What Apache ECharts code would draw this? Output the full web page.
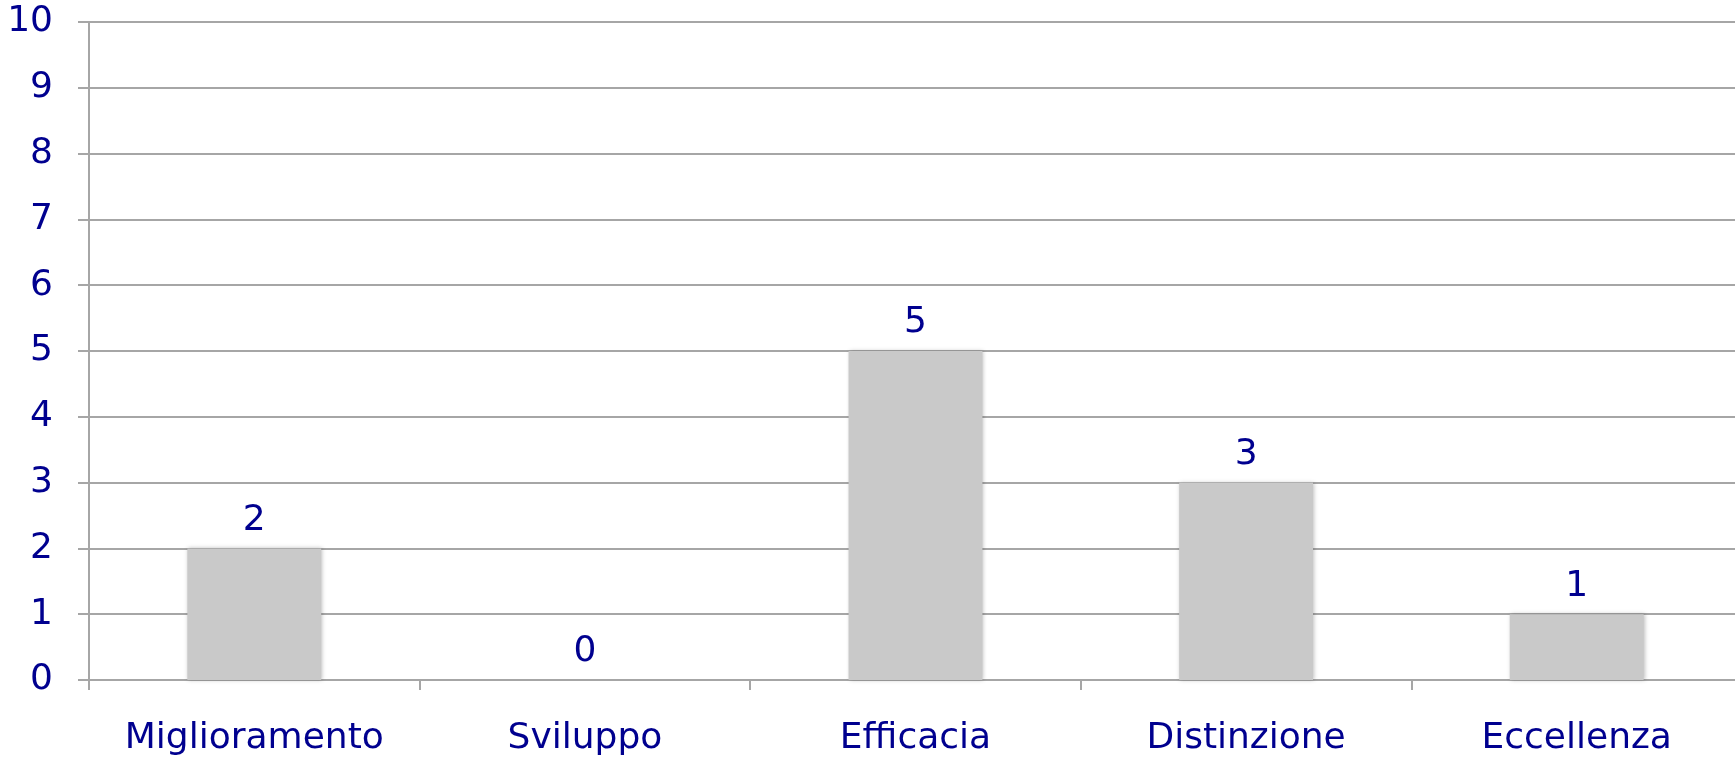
<!DOCTYPE html>
<html>
<head>
<meta charset="utf-8">
<title>Livelli</title>
<script src="https://cdn.jsdelivr.net/npm/echarts@6/dist/echarts.min.js"></script>
<style>
  html, body { margin: 0; padding: 0; background: #ffffff; }
  #chart { width: 1735px; height: 759px; }
</style>
</head>
<body>
<div id="chart"></div>
<script>
// Levels and how many entries fall into each
const categories = ['Miglioramento', 'Sviluppo', 'Efficacia', 'Distinzione', 'Eccellenza'];
const counts = [2, 0, 5, 3, 1];
const yTicks = { min: 0, max: 10, interval: 1 };

const textColor = '#00008f';
const lineColor = '#a6a6a6';
const fontFamily = 'DejaVu Sans, Verdana, sans-serif';
const fontSize = 36;

const chart = echarts.init(document.getElementById('chart'));
chart.setOption({
  animation: false,
  grid: { left: 89, top: 22, bottom: 79, right: -7, outerBoundsMode: 'none' },
  xAxis: {
    type: 'category',
    data: categories,
    boundaryGap: true,
    axisLine: { show: true, lineStyle: { color: lineColor, width: 2 } },
    axisTick: { show: true, length: 10, lineStyle: { color: lineColor, width: 2 } },
    axisLabel: { color: textColor, fontSize: fontSize, fontFamily: fontFamily, margin: 41, interval: 0 },
    splitLine: { show: false }
  },
  yAxis: {
    type: 'value',
    min: yTicks.min,
    max: yTicks.max,
    interval: yTicks.interval,
    axisLine: { show: true, lineStyle: { color: lineColor, width: 2 } },
    axisTick: { show: true, length: 11, lineStyle: { color: lineColor, width: 2 } },
    axisLabel: { color: textColor, fontSize: fontSize, fontFamily: fontFamily, margin: 36 },
    splitLine: { show: true, lineStyle: { color: lineColor, width: 2 } }
  },
  series: [{
    type: 'bar',
    data: counts,
    barWidth: '40.5%',
    itemStyle: {
      color: '#c9c9c9',
      shadowColor: 'rgba(0,0,0,0.25)',
      shadowBlur: 4,
      shadowOffsetX: 1
    },
    label: {
      show: true,
      position: 'top',
      distance: 10,
      color: textColor,
      fontSize: fontSize,
      fontFamily: fontFamily
    }
  }]
});
</script>
</body>
</html>
